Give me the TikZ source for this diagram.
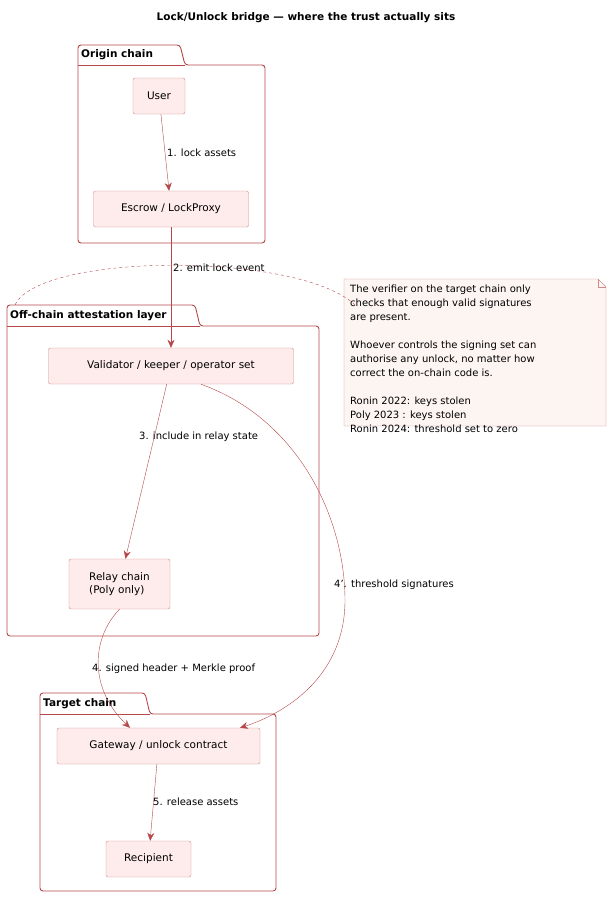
\documentclass[tikz,border=0pt]{standalone}
\usepackage{fontspec}
\setmainfont{DejaVu Sans}
\usetikzlibrary{arrows.meta}
\definecolor{edge}{HTML}{B5474B}
\definecolor{boxfill}{HTML}{FDECEB}
\definecolor{boxline}{HTML}{D08A8A}
\definecolor{notefill}{HTML}{FDF5F2}
\tikzset{
  comp/.style={draw=boxline,fill=boxfill,rounded corners=2pt,inner sep=0pt,font=\fontsize{10.5}{13}\selectfont,align=left},
  pkg/.style={draw=edge,line width=0.9pt},
  flow/.style={draw=edge,-{Stealth[length=8pt,width=7pt]}},
  lbl/.style={font=\fontsize{10}{12}\selectfont,anchor=west,inner sep=1pt}
}
\begin{document}
\begin{tikzpicture}[x=1pt,y=-1pt]
  \useasboundingbox (0,0) rectangle (612,899);
  \node[font=\bfseries\fontsize{10.5}{13}\selectfont] (title) at (306,18) {Lock/Unlock bridge — where the trust actually sits};
  % packages
  \draw[pkg,rounded corners=3pt] (78,65) -- (78,45) -- (180,45) -- (185,65) -- (265,65) -- (265,243) -- (78,243) -- cycle;
  \draw[pkg] (78,65) -- (185,65);
  \node[font=\bfseries\fontsize{10.5}{13}\selectfont,anchor=west,inner sep=2pt] (porigin) at (79,55) {Origin chain};
  \draw[pkg,rounded corners=3pt] (7,326) -- (7,305) -- (195,305) -- (200,326) -- (319,326) -- (319,636) -- (7,636) -- cycle;
  \draw[pkg] (7,326) -- (200,326);
  \node[font=\bfseries\fontsize{10.5}{13}\selectfont,anchor=west,inner sep=2pt] (poff) at (8,316) {Off-chain attestation layer};
  \draw[pkg,rounded corners=3pt] (40,714) -- (40,693) -- (145,693) -- (150,714) -- (276,714) -- (276,891) -- (40,891) -- cycle;
  \draw[pkg] (40,714) -- (150,714);
  \node[font=\bfseries\fontsize{10.5}{13}\selectfont,anchor=west,inner sep=2pt] (ptarget) at (41,704) {Target chain};
  % components
  \node[comp,minimum width=52,minimum height=36] (user) at (159,96) {User};
  \node[comp,minimum width=155,minimum height=36] (escrow) at (171,209) {Escrow / LockProxy};
  \node[comp,minimum width=245,minimum height=36] (valid) at (171,366) {Validator / keeper / operator set};
  \node[comp,minimum width=101,minimum height=50] (relay) at (119.5,584) {Relay chain\\(Poly only)};
  \node[comp,minimum width=203,minimum height=36] (gate) at (158.5,746) {Gateway / unlock contract};
  \node[comp,minimum width=85,minimum height=36] (recip) at (148.5,859) {Recipient};
  % note
  \draw[draw=boxline,fill=notefill] (344,279) -- (598,279) -- (606,287) -- (606,426) -- (344,426) -- cycle;
  \draw[draw=boxline] (598,279) -- (598,287) -- (606,287);
  \node[font=\fontsize{10}{14}\selectfont,align=left,anchor=north west,inner sep=0pt] (note) at (350,285)
    {The verifier on the target chain only\\checks that enough valid signatures\\are present.\\[14pt]Whoever controls the signing set can\\authorise any unlock, no matter how\\correct the on-chain code is.\\[14pt]Ronin 2022: keys stolen\\Poly 2023 : keys stolen\\Ronin 2024: threshold set to zero};
  \coordinate (nanchor) at (355,305);
  \coordinate (panchor) at (15,305);
  \draw[edge,dash pattern=on 3pt off 3pt] (nanchor) .. controls (300,252) and (40,252) .. (panchor);
  % flows
  \draw[flow] (user) -- (escrow);
  \node[lbl] (l1) at (166,153) {1. lock assets};
  \draw[flow] (escrow) -- (valid);
  \node[lbl] (l2) at (172,268) {2. emit lock event};
  \draw[flow] (valid) -- (relay);
  \node[lbl] (l3) at (138,437) {3. include in relay state};
  \draw[flow] (relay.south) .. controls (90,640) and (90,690) .. (gate.north -| 130,0);
  \node[lbl] (l4) at (91,669) {4. signed header + Merkle proof};
  \draw[flow] (valid.south) ++(30,0) .. controls (300,420) and (345,520) .. (345,600) .. controls (345,680) and (280,715) .. (gate.north -| 240,0);
  \node[lbl] (l4b) at (333,585) {4'. threshold signatures};
  \draw[flow] (gate) -- (recip);
  \node[lbl] (l5) at (152,802) {5. release assets};
\end{tikzpicture}
\end{document}
